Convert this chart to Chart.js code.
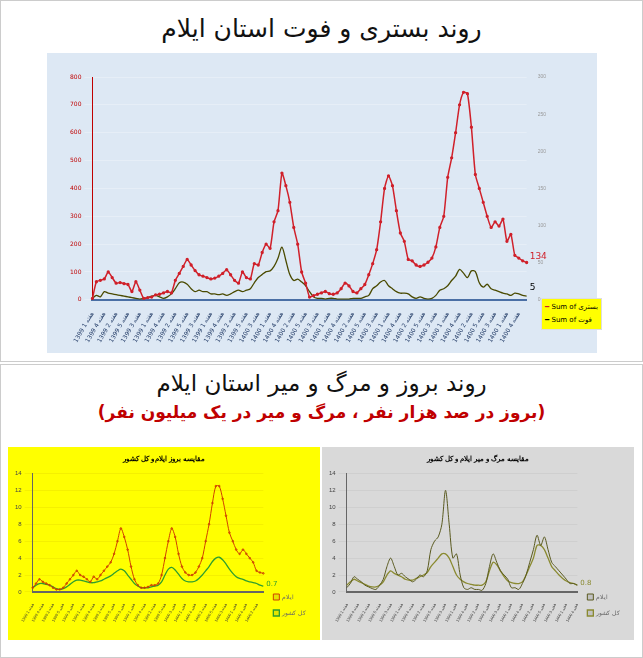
<!DOCTYPE html>
<html><head><meta charset="utf-8">
<script src="https://cdn.jsdelivr.net/npm/chart.js@4.4.0/dist/chart.umd.min.js"></script>
<style>
body{margin:0;background:#fff;width:643px;height:658px;position:relative;font-family:"DejaVu Sans",sans-serif;overflow:hidden}
.card{position:absolute;border:1px solid #ccc;background:#fff}
.t{position:absolute;width:100%;text-align:center;direction:rtl}
.box{position:absolute}
.lg{position:absolute;background:#ffff00;font-size:7px;padding:2px 3px;line-height:13px;border:1px solid #ddd}
</style></head><body>
<div class="card" style="left:0;top:0;width:641px;height:360px"></div>
<div class="card" style="left:0;top:364px;width:641px;height:292px"></div>
<div class="t" style="top:14px;font-size:25px;color:#111">روند بستری و فوت استان ایلام</div>
<div class="t" style="top:370px;font-size:23px;color:#111">روند بروز و مرگ و میر استان ایلام</div>
<div class="t" style="top:402px;font-size:17px;color:#c00000;font-weight:bold">(بروز در صد هزار نفر ، مرگ و میر در یک میلیون نفر)</div>
<div class="box" style="left:47px;top:53px;width:550px;height:300px;background:#dde8f4"><canvas id="c1"></canvas></div>
<div class="lg" style="left:541px;top:298px"><span style="color:#d0202a">━</span> Sum of بستری<br><span style="color:#000">━</span> Sum of فوت</div>
<div class="box" style="left:8px;top:447px;width:312px;height:193px;background:#ffff00"><canvas id="c2"></canvas></div>
<div class="box" style="left:322px;top:447px;width:312px;height:193px;background:#d9d9d9"><canvas id="c3"></canvas></div>
<script>
const hospital=[5,65,70,75,100,80,60,62,58,55,30,65,35,5,8,10,18,20,25,30,25,70,95,120,145,125,105,90,85,80,75,78,85,95,108,90,70,60,100,80,75,130,125,170,200,185,280,320,455,410,350,260,200,100,60,10,15,20,25,30,22,20,25,40,60,50,30,25,40,55,90,130,180,280,400,445,410,320,240,210,145,140,125,120,125,135,150,190,260,300,440,510,600,700,745,740,620,450,400,350,300,260,280,265,290,210,235,160,150,140,134];
const deaths=[2,6,4,11,9,8,7,6,5,4,3,2,1,2,3,5,6,4,2,4,8,15,23,24,21,15,11,13,11,11,8,8,7,8,6,8,11,13,11,13,15,23,30,34,38,39,45,56,71,53,34,26,28,24,19,11,4,2,2,1,2,2,1,1,1,1,2,2,2,4,6,15,19,24,26,19,15,11,9,9,8,4,2,4,2,1,2,6,13,15,19,26,32,41,36,30,39,38,23,17,21,15,13,11,9,8,6,9,8,6,5];
const incidence=[0.5,1,1.5,1.2,1,0.8,0.5,0.3,0.3,0.5,1,1.5,2,2.5,2,1.8,1.5,1.2,1.8,1.5,2,2.5,3,3.5,4.5,6,7.5,6.5,5,3,1.5,0.8,0.5,0.5,0.6,0.8,0.8,1,2,4,6,7.5,6.5,4.5,3,2.3,2,2,2.3,3,4,6,8,10.5,12.5,12.5,11,9,7,6,5,4.5,5,4.5,4,3.5,2.5,2.3,2.2];
const incidenceCountry=[0.5,0.8,1,1,0.9,0.8,0.6,0.4,0.3,0.4,0.6,0.9,1.2,1.4,1.4,1.3,1.2,1.1,1.1,1.2,1.3,1.5,1.7,1.9,2.2,2.5,2.7,2.5,2,1.5,1,0.7,0.5,0.5,0.5,0.6,0.7,0.8,1.2,2,2.7,2.9,2.6,2.1,1.6,1.3,1.2,1.2,1.3,1.6,2,2.5,3,3.6,4,4.1,3.8,3.3,2.7,2.2,1.8,1.6,1.5,1.3,1.2,1.1,1,0.8,0.7];
const mortality=[0.5,1,1.8,1.5,1.2,0.8,0.6,0.4,0.3,0.8,1.5,3,4,3,2,2.2,1.8,1.5,1.2,1.5,2,1.8,2.5,5,6,6.5,8,12,8,4,4.5,2,0.5,0.3,0.5,0.3,0.3,0.2,1,3,4.5,3.5,2.5,2,1.5,0.5,0.5,0.3,1,2,3.5,5,6.7,5.5,6.5,5,3.5,3,2.5,2,1.5,1,1,0.8];
const mortalityCountry=[0.8,1.2,1.5,1.3,1.1,0.9,0.7,0.6,0.6,0.8,1.2,2,2.5,2.2,2,1.8,1.5,1.4,1.4,1.6,1.8,2,2.3,3,3.5,4,4.5,4.5,4,3,2,1.5,1.2,1,0.9,0.8,0.8,0.8,1.2,2.5,3.5,3.2,2.5,1.8,1.3,1.1,1,1,1.2,2,3,4,5.5,5.5,5,4,3,2.5,2,1.6,1.3,1.1,1,0.8];
const weekWord='هفته';
function weekLabels(n,startYear){const a=[];for(let i=0;i<n;i++){const y=i<40?startYear:(i<75?startYear+1:1400);a.push(weekWord+' '+(i%5+1)+' '+y);}return a;}
const endLabel={id:'endLabel',afterDatasetsDraw(c,args,o){const ctx=c.ctx;(o.items||[]).forEach(it=>{const m=c.getDatasetMeta(it.ds);const p=m.data[m.data.length-1];if(!p)return;ctx.save();ctx.font=it.font||'9px DejaVu Sans';ctx.fillStyle=it.color;ctx.fillText(c.data.datasets[it.ds].data.slice(-1)[0],p.x+3,p.y+(it.dy||0));ctx.restore();});}};
const tickFont={size:6,family:'DejaVu Sans'};
new Chart(document.getElementById('c1'),{type:'line',plugins:[endLabel],data:{labels:weekLabels(hospital.length,1399),datasets:[
 {label:'Sum of بستری',data:hospital,borderColor:'#d0202a',borderWidth:1.5,pointRadius:0.9,pointBackgroundColor:'#a01010',tension:0.2,yAxisID:'y'},
 {label:'Sum of فوت',data:deaths,borderColor:'#4a4a00',borderWidth:1.3,pointRadius:0,tension:0.3,yAxisID:'y2'}]},
 options:{responsive:true,maintainAspectRatio:false,animation:false,layout:{padding:{top:24,right:48,left:20,bottom:6}},
 plugins:{legend:{display:false},endLabel:{items:[{ds:0,color:'#d0202a',dy:-4},{ds:1,color:'#000',dy:-6}]}},
 scales:{x:{grid:{display:false},border:{color:'#4a6fa5',width:2},ticks:{font:tickFont,color:'#1f3864',maxRotation:60,minRotation:60,autoSkip:true,maxTicksLimit:45}},
 y:{min:0,max:800,ticks:{stepSize:100,font:tickFont,color:'#c00000'},grid:{color:'#e6eef7'},border:{color:'#c00000'}},
 y2:{position:'right',min:0,max:300,ticks:{stepSize:50,font:{size:5},color:'#999'},grid:{display:false},border:{display:false}}}}});
function small(id,title,d1,d2,c1,c2,bg,pts,tbg){
 new Chart(document.getElementById(id),{type:'line',plugins:[endLabel],data:{labels:weekLabels(d1.length,1399),datasets:[
 {label:'ایلام',data:d1,borderColor:c1,borderWidth:1,pointRadius:pts?0.8:0,tension:0.3},
 {label:'کل کشور',data:d2,borderColor:c2,borderWidth:1.3,pointRadius:0,tension:0.3}]},
 options:{responsive:true,maintainAspectRatio:false,animation:false,layout:{padding:{top:8,right:4,left:4,bottom:14}},
 plugins:{title:{display:true,text:title,font:{size:7},color:'#000',padding:{bottom:10}},legend:{position:'right',align:'end',labels:{boxWidth:6,font:{size:6}}},endLabel:{items:[{ds:1,color:c2,font:'7px DejaVu Sans'}]}},
 scales:{x:{grid:{display:false},border:{color:'#666',width:2},ticks:{font:{size:4},color:'#333',maxRotation:60,minRotation:60,autoSkip:true,maxTicksLimit:40}},
 y:{min:0,max:14,ticks:{stepSize:2,font:{size:6},color:'#444'},grid:{color:bg},border:{color:'#666'}}}}});
}
small('c2','مقایسه بروز ایلام و کل کشور',incidence,incidenceCountry,'#d04000','#2e9e2e','#f5f000',true);
small('c3','مقایسه مرگ و میر ایلام و کل کشور',mortality,mortalityCountry,'#5a5a20','#8a8a30','#cfcfcf',false);
</script></body></html>
